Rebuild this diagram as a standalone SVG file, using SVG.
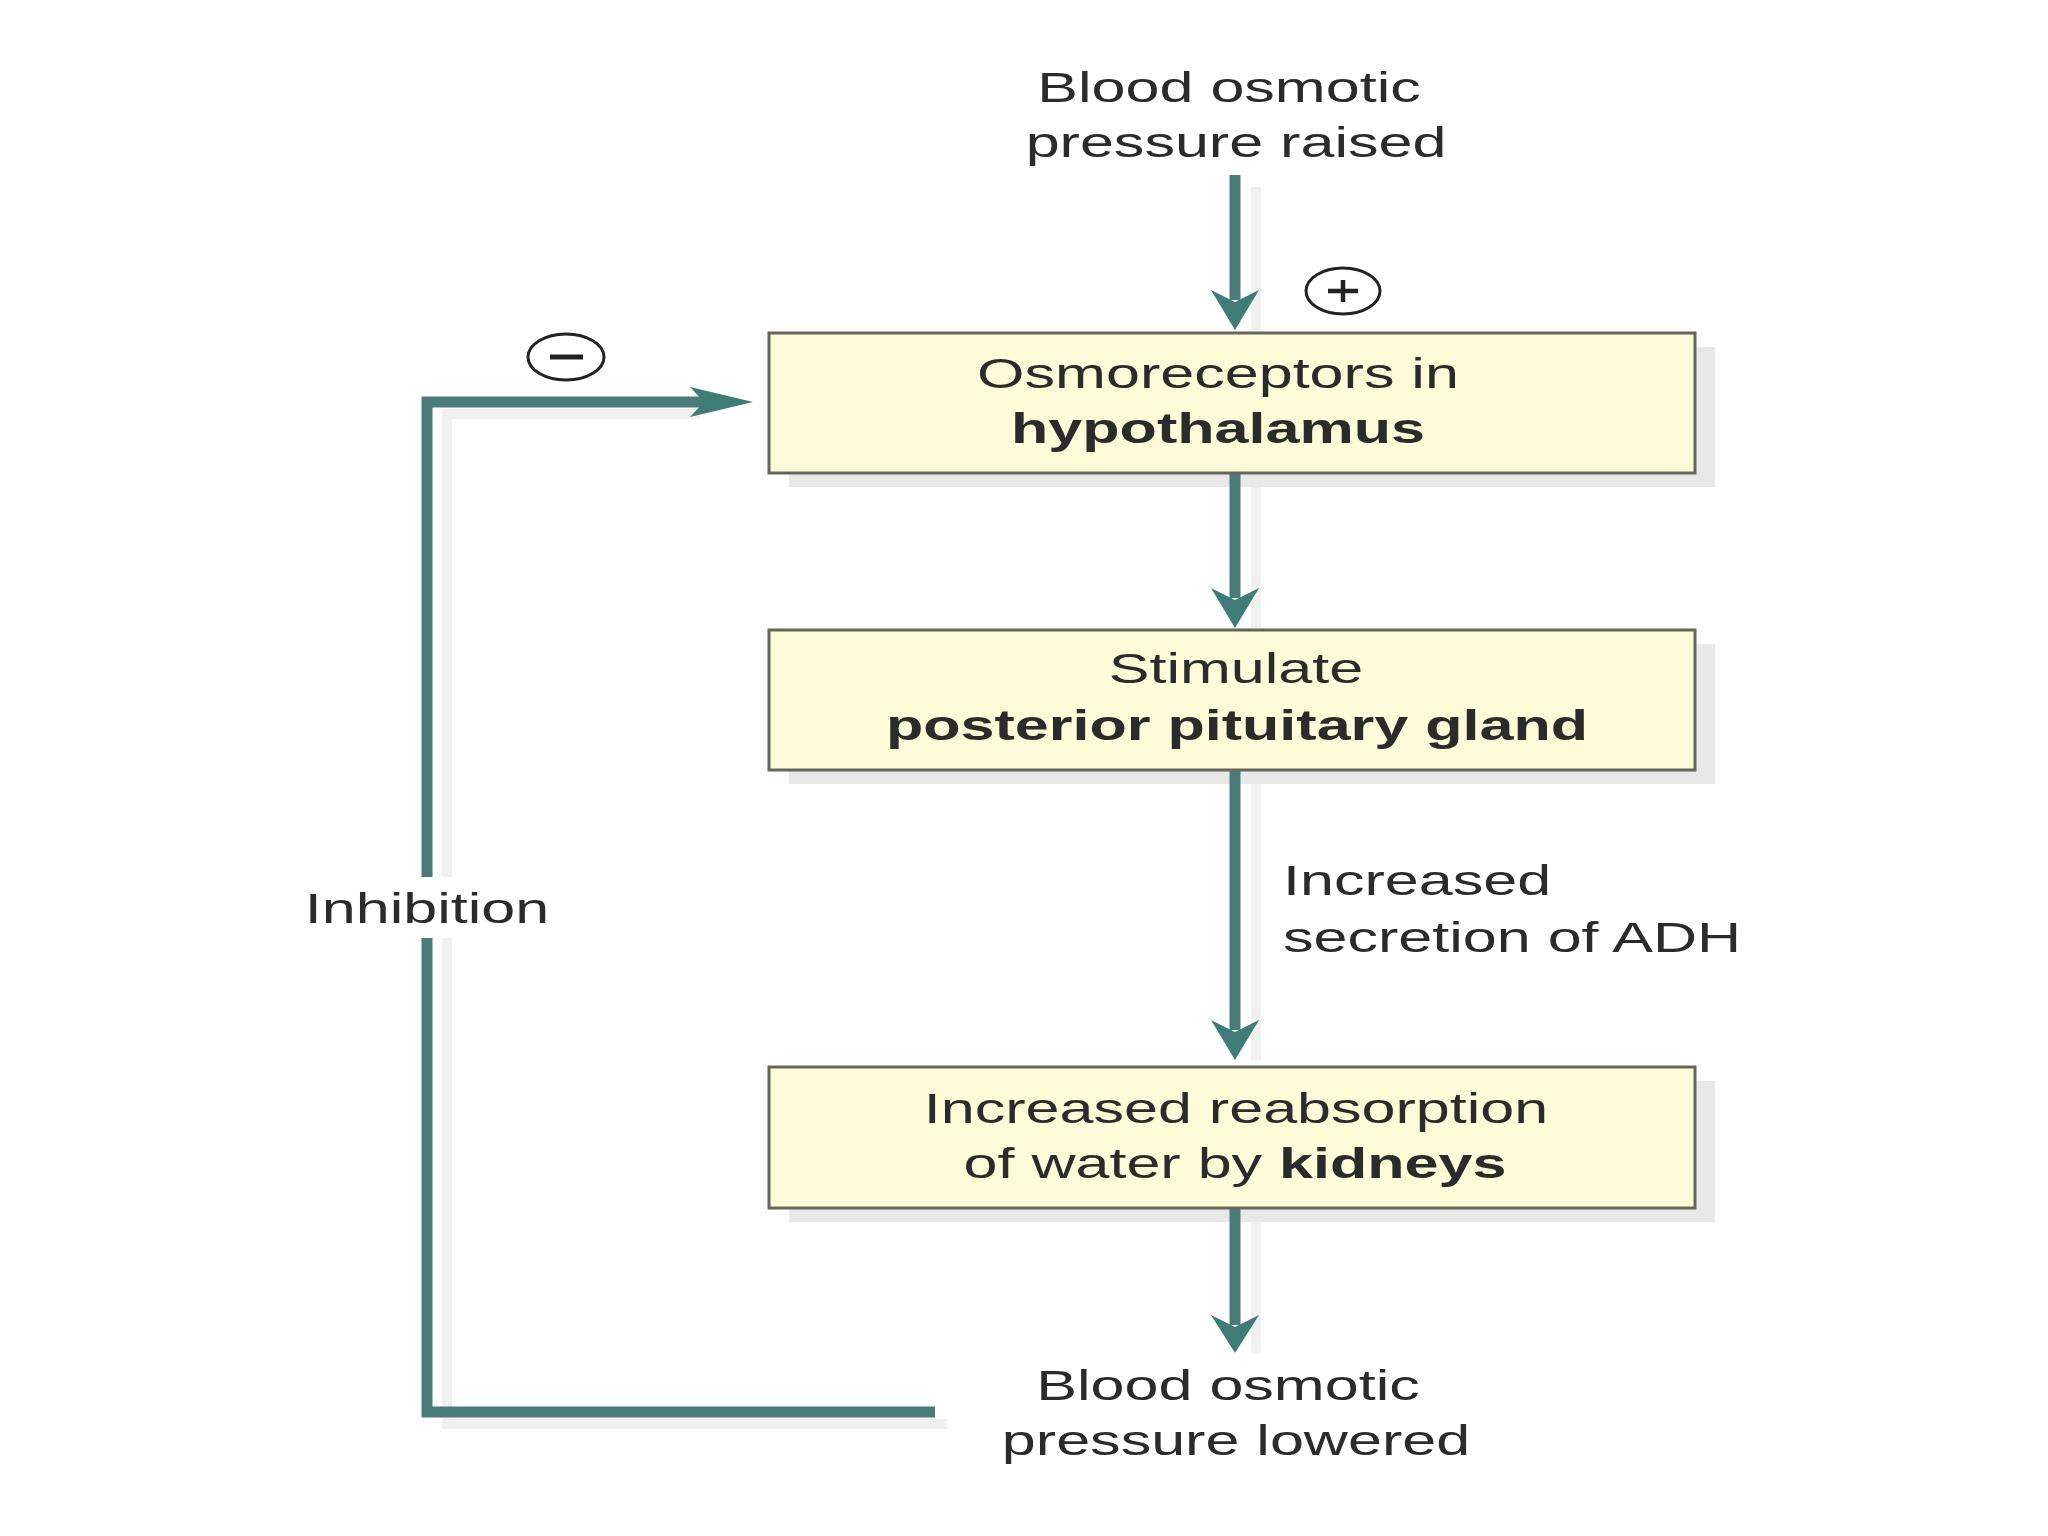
<svg xmlns="http://www.w3.org/2000/svg" width="2048" height="1536" viewBox="0 0 2048 1536">
<style>
.t{font-family:"Liberation Sans",Arial,sans-serif;font-size:43px;fill:#2b2b2b}
.b{font-weight:bold}
.box{fill:#fdfbd8;stroke:#66665a;stroke-width:3}
.bsh{fill:#e8e8e8}
.ln{fill:none;stroke:#4a7b78;stroke-width:11}
.lsh{fill:none;stroke:#f0f0f0;stroke-width:10}
.hd{fill:#3f7c77}
.sym{fill:none;stroke:#222;stroke-width:3}
</style>
<rect width="2048" height="1536" fill="#ffffff"/>

<g id="shadows">
<rect class="bsh" x="789" y="347" width="926" height="140"/>
<rect class="bsh" x="789" y="644" width="926" height="140"/>
<rect class="bsh" x="789" y="1081" width="926" height="141"/>
<path class="lsh" d="M1256,187 V330 M1256,487 V628 M1256,784 V1060 M1256,1222 V1353"/>
<path class="lsh" d="M947,1424 H447 V414 H700"/>
</g>

<g id="connectors">
<line class="ln" x1="1235" y1="175" x2="1235" y2="300"/>
<polygon class="hd" points="1211,290 1235,330 1259,290 1235,302"/>
<line class="ln" x1="1235" y1="473" x2="1235" y2="598"/>
<polygon class="hd" points="1211,588 1235,628 1259,588 1235,600"/>
<line class="ln" x1="1235" y1="770" x2="1235" y2="1030"/>
<polygon class="hd" points="1211,1020 1235,1060 1259,1020 1235,1032"/>
<line class="ln" x1="1235" y1="1208" x2="1235" y2="1325"/>
<polygon class="hd" points="1211,1315 1235,1353 1259,1315 1235,1327"/>
<path class="ln" d="M935,1412 H427 V402 H710" stroke-width="10"/>
<polygon class="hd" points="690,387 753,402 690,417 704,402"/>
</g>

<g id="top-label">
<text class="t" text-anchor="middle" transform="matrix(1.42 0 0 1 1229 102)">Blood osmotic</text>
<text class="t" text-anchor="middle" transform="matrix(1.42 0 0 1 1236 157)">pressure raised</text>
</g>

<g id="plus">
<ellipse class="sym" cx="1343" cy="291" rx="37" ry="23"/>
<path d="M1328,291 H1358 M1343,280 V302" stroke="#222" stroke-width="4.5"/>
</g>

<g id="minus">
<ellipse class="sym" cx="566" cy="357" rx="38" ry="23"/>
<path d="M550,357 H583" stroke="#222" stroke-width="5"/>
</g>

<g id="osmoreceptors">
<rect class="box" x="769" y="333" width="926" height="140"/>
<text class="t" text-anchor="middle" transform="matrix(1.42 0 0 1 1218 388)">Osmoreceptors in</text>
<text class="t b" text-anchor="middle" transform="matrix(1.42 0 0 1 1218 443)">hypothalamus</text>
</g>

<g id="pituitary">
<rect class="box" x="769" y="630" width="926" height="140"/>
<text class="t" text-anchor="middle" transform="matrix(1.42 0 0 1 1236 683)">Stimulate</text>
<text class="t b" text-anchor="middle" transform="matrix(1.42 0 0 1 1237 740)">posterior pituitary gland</text>
</g>

<g id="adh-label">
<text class="t" transform="matrix(1.42 0 0 1 1283 895)">Increased</text>
<text class="t" transform="matrix(1.42 0 0 1 1283 952)">secretion of ADH</text>
</g>

<g id="kidneys">
<rect class="box" x="769" y="1067" width="926" height="141"/>
<text class="t" text-anchor="middle" transform="matrix(1.42 0 0 1 1236 1123)">Increased reabsorption</text>
<text class="t" text-anchor="middle" transform="matrix(1.42 0 0 1 1235 1178)">of water by <tspan class="b">kidneys</tspan></text>
</g>

<g id="inhibition">
<rect x="298" y="877" width="258" height="61" fill="#ffffff"/>
<text class="t" text-anchor="middle" transform="matrix(1.42 0 0 1 427 923)">Inhibition</text>
</g>

<g id="bottom-label">
<text class="t" text-anchor="middle" transform="matrix(1.42 0 0 1 1228 1400)">Blood osmotic</text>
<text class="t" text-anchor="middle" transform="matrix(1.42 0 0 1 1236 1455)">pressure lowered</text>
</g>
</svg>
